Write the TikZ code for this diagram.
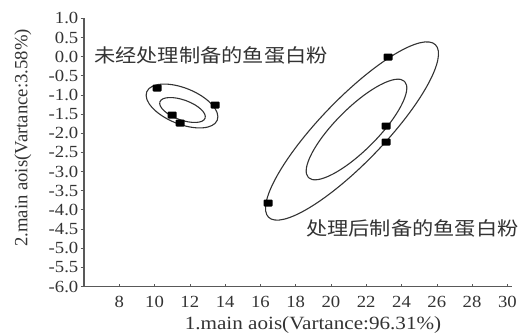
\documentclass[tikz,border=0pt]{standalone}
\usepackage{fontspec}
\setmainfont{Liberation Serif}
\newfontfamily\cjk{Noto Sans CJK SC}
\begin{document}
\begin{tikzpicture}[x=1pt,y=1pt,
  axis/.style={draw=black!65, line width=1.6pt},
  tickline/.style={draw=black!65, line width=1pt},
  curve/.style={draw=black!80, line width=1.1pt},
  marker/.style={fill=black, rounded corners=1pt, minimum width=9pt, minimum height=7pt, inner sep=0pt},
  ticklab/.style={font=\fontsize{17}{18}\selectfont, text=black!80, xscale=1.1, inner sep=0pt},
  axlab/.style={font=\fontsize{18.7}{20}\selectfont, text=black!80, inner sep=0pt},
  cjklab/.style={font=\cjk\fontsize{18.8}{20}\selectfont, text=black!80, xscale=1.13, inner sep=0pt}
]
\useasboundingbox (0,0) rectangle (528,333);
% axes
\coordinate (O) at (84,46.5);
\coordinate (YT) at (84,314.6);
\coordinate (XE) at (512,46.5);
\draw[axis] (YT) -- (O) -- (XE);
% y ticks
\foreach \lab [count=\i from 0] in {-6.0,-5.5,-5.0,-4.5,-4.0,-3.5,-3.0,-2.5,-2.0,-1.5,-1.0,-0.5,0.0,0.5,1.0}{
  \pgfmathsetmacro{\yy}{46.5+\i*19.15}
  \coordinate (yt\i) at (80.5,\yy);
  \coordinate (ya\i) at (84,\yy);
  \draw[tickline] (yt\i) -- (ya\i);
  \node[ticklab, anchor=east] (ylab\i) at (78.5,\yy) {\lab};
}
% x ticks
\foreach \u [count=\i] in {8,10,...,30}{
  \pgfmathsetmacro{\xx}{84+(\u-6)*17.64}
  \coordinate (xt\i) at (\xx,46.5);
  \coordinate (xa\i) at (\xx,49);
  \draw[tickline, line width=0.6pt] (xt\i) -- (xa\i);
  \node[ticklab] (xlab\i) at (\xx,31) {\u};
}
% axis titles
\node[axlab, xscale=1.13] (xtitle) at (313,8) {1.main aois(Vartance:96.31\%)};
\node[axlab, rotate=90] (ytitle) at (23,195) {2.main aois(Vartance:3.58\%)};
% ellipses, untreated group
\draw[curve, rotate around={-22:(182,227)}] (182,227) ellipse [x radius=38, y radius=18];
\draw[curve, rotate around={-20:(182.5,223)}] (182.5,223) ellipse [x radius=24, y radius=10];
% ellipses, treated group
\draw[curve, rotate around={46:(352,202)}] (352,202) ellipse [x radius=120, y radius=32];
\draw[curve, rotate around={45:(356.5,203.5)}] (356.5,203.5) ellipse [x radius=68, y radius=21];
% markers
\node[marker] (m1) at (157,245) {};
\node[marker] (m2) at (215,228) {};
\node[marker] (m3) at (172,218) {};
\node[marker] (m4) at (180,210) {};
\node[marker] (m5) at (388,276) {};
\node[marker] (m6) at (386,207) {};
\node[marker] (m7) at (386,191) {};
\node[marker] (m8) at (268,130) {};
% group labels
\node[cjklab, anchor=west] (g1) at (94,278) {未经处理制备的鱼蛋白粉};
\node[cjklab, anchor=west] (g2) at (306,105) {处理后制备的鱼蛋白粉};
\end{tikzpicture}
\end{document}
